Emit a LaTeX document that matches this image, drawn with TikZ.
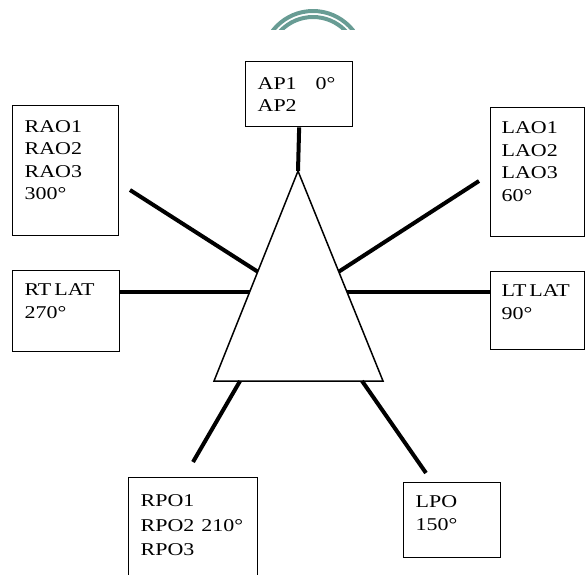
\documentclass[tikz,border=0pt]{standalone}
\usepackage{fontspec}
\setmainfont{Liberation Serif}[FakeStretch=1.22]
\usepackage{tikz}
\usetikzlibrary{calc}
\definecolor{arcteal}{RGB}{104,156,148}
\tikzstyle{View}=[draw=black, line width=1.3pt, fill=white, anchor=north west, align=left, inner xsep=12pt, inner ysep=0pt, font=\fontsize{18}{22.5}\selectfont, text=black]
\tikzstyle{Prism}=[draw=black, line width=1.5pt, fill=white]
\tikzstyle{Tube}=[draw=arcteal, line width=4pt]
\tikzstyle{beam}=[line width=4pt, draw=black]
\pgfdeclarelayer{nodelayer}
\pgfdeclarelayer{edgelayer}
\pgfsetlayers{main, nodelayer, edgelayer}

\begin{document}
\begin{tikzpicture}[x=1pt, y=-1pt]
	\useasboundingbox (0, 0) rectangle (585, 574);
	\begin{pgfonlayer}{nodelayer}
		\node [style=View, text width=83pt, text height=27.5pt, text depth=37.5pt] (ap) at (245, 61) {AP1\hspace{19pt}0°\\AP2};
		\node [style=View, text width=82pt, text height=26.7pt, text depth=103.3pt] (rao) at (12, 105) {RAO1\\RAO2\\RAO3\\300°};
		\node [style=View, text width=83pt, text height=25pt, text depth=56pt] (rtlat) at (12, 270) {\mbox{RT\hspace{3pt}LAT}\\270°};
		\node [style=View, text width=72pt, inner xsep=11pt, text height=26pt, text depth=103pt] (lao) at (490, 107) {LAO1\\LAO2\\LAO3\\60°};
		\node [style=View, text width=72pt, inner xsep=11pt, text height=25pt, text depth=53pt] (ltlat) at (490, 271) {\mbox{LT\hspace{3pt}LAT}\\90°};
		\node [style=View, text width=105pt, text height=29pt, text depth=94pt, font=\fontsize{18}{24.5}\selectfont] (rpo) at (128, 477) {RPO1\\RPO2\hspace{7pt}210°\\RPO3};
		\node [style=View, text width=73pt, text height=25pt, text depth=50pt] (lpo) at (403, 482) {LPO\\150°};
		\coordinate (apex) at (298, 171);
		\coordinate (baseleft) at (214, 381);
		\coordinate (baseright) at (383, 381);
		\draw [style=Prism] (apex) -- (baseleft) -- (baseright) -- cycle;
		\begin{scope}
			\clip (0, 0) rectangle (585, 29.3);
			\draw [style=Tube] (313, 62) circle (51);
			\draw [style=Tube] (313, 62) circle (45);
		\end{scope}
	\end{pgfonlayer}
	\begin{pgfonlayer}{edgelayer}
		\coordinate (raostart) at (130, 190);
		\coordinate (laostart) at (479, 181);
		\coordinate (rpoend) at (193, 462);
		\coordinate (lpoend) at (426, 473);
		\coordinate (raoend) at ($(apex)!0.4795!(baseleft)$);
		\coordinate (rtlatend) at ($(apex)!0.575!(baseleft)$);
		\coordinate (laoend) at ($(apex)!0.4795!(baseright)$);
		\coordinate (ltlatend) at ($(apex)!0.575!(baseright)$);
		\coordinate (rpostart) at ($(baseleft)!0.154!(baseright)$);
		\coordinate (lpostart) at ($(baseleft)!0.876!(baseright)$);
		\draw [style=beam] (ap.south) to (apex);
		\draw [style=beam] (raostart) to (raoend);
		\draw [style=beam] (rtlatend -| rtlat.east) to (rtlatend);
		\draw [style=beam] (laostart) to (laoend);
		\draw [style=beam] (ltlatend) to (ltlatend -| ltlat.west);
		\draw [style=beam] (rpostart) to (rpoend);
		\draw [style=beam] (lpostart) to (lpoend);
	\end{pgfonlayer}
\end{tikzpicture}
\end{document}
